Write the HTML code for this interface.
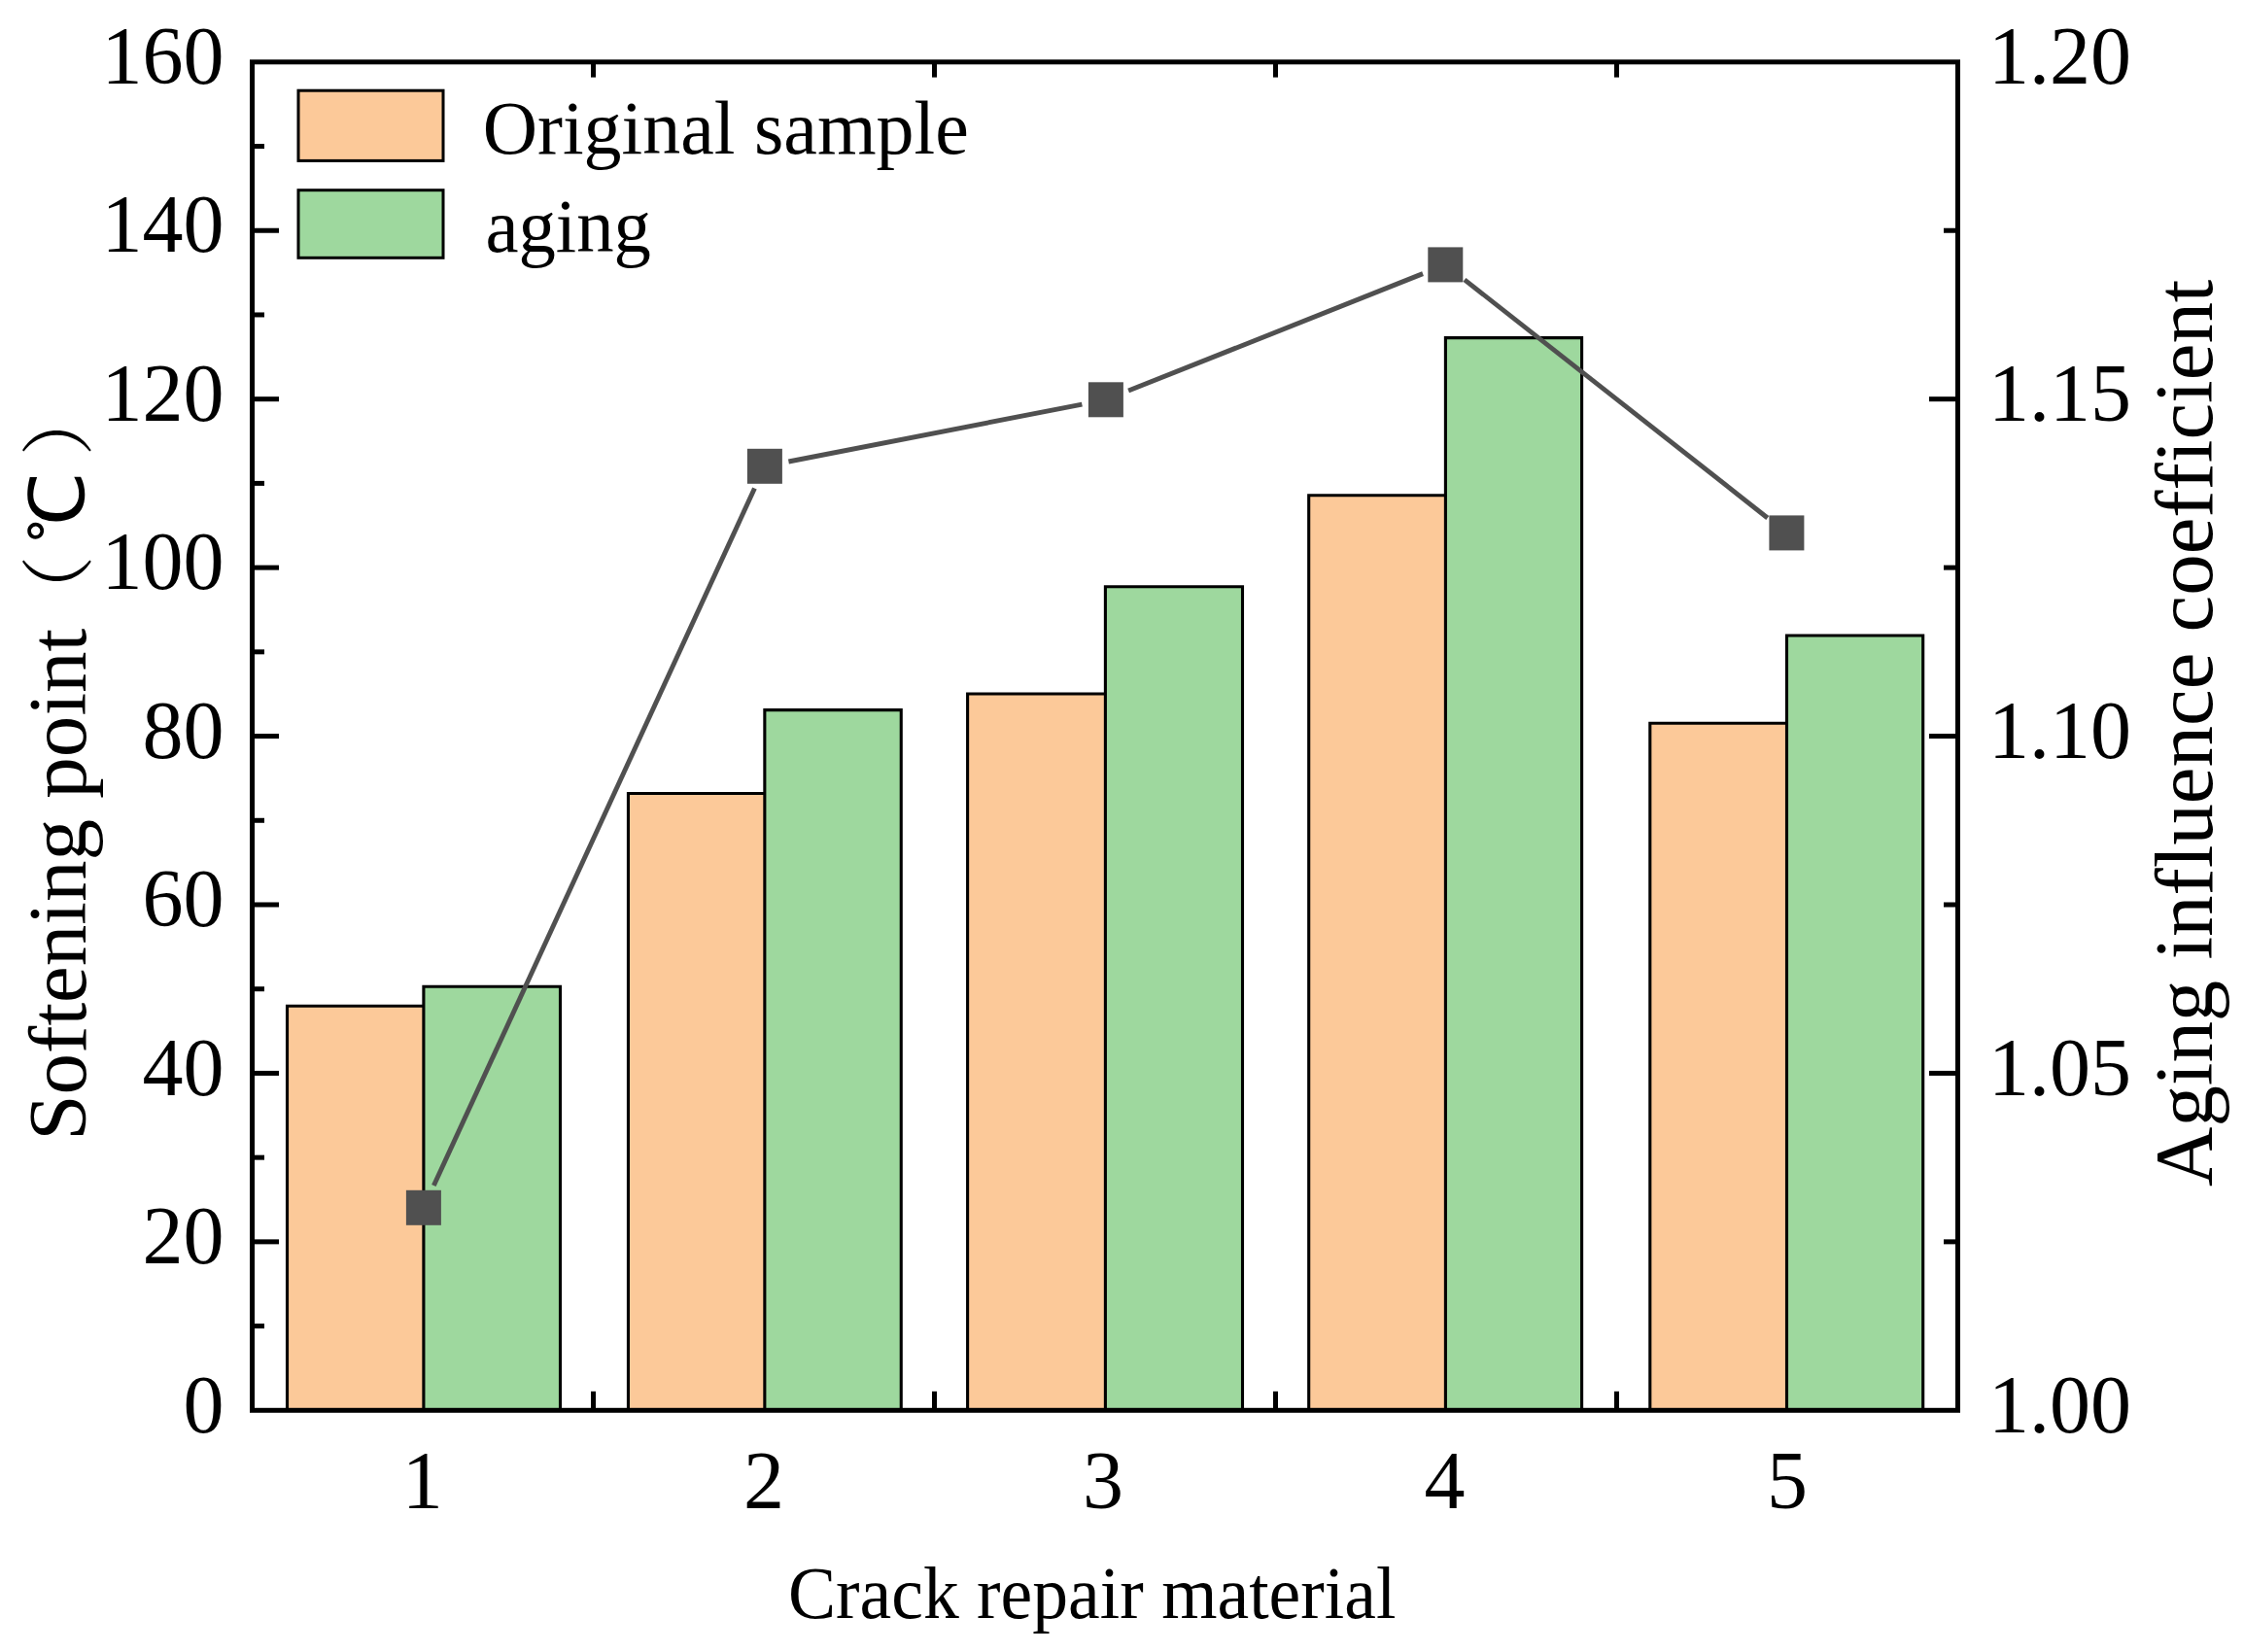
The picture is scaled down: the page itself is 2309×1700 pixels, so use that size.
<!DOCTYPE html>
<html lang="en">
<head>
<meta charset="utf-8">
<title>Softening point and aging influence coefficient</title>
<style>
html,body{margin:0;padding:0;background:#ffffff;}
body{width:2309px;height:1700px;overflow:hidden;}
svg{display:block;}
text{font-kerning:none;font-variant-ligatures:none;}
</style>
</head>
<body>
<svg width="2309" height="1700" viewBox="0 0 2309 1700">
<rect x="0" y="0" width="2309" height="1700" fill="#ffffff"/>
<rect x="295.5" y="1035.2" width="140.4" height="416.1" fill="#FCC999"/>
<rect x="435.9" y="1015.2" width="140.6" height="436.1" fill="#9ED89E"/>
<rect x="646.45" y="816.5" width="140.4" height="634.8" fill="#FCC999"/>
<rect x="786.85" y="730.6" width="140.4" height="720.7" fill="#9ED89E"/>
<rect x="995.6" y="714" width="141.8" height="737.3" fill="#FCC999"/>
<rect x="1137.4" y="603.7" width="141.1" height="847.6" fill="#9ED89E"/>
<rect x="1346.7" y="509.8" width="140.7" height="941.5" fill="#FCC999"/>
<rect x="1487.4" y="347.6" width="140.2" height="1103.7" fill="#9ED89E"/>
<rect x="1697.8" y="744.2" width="140.7" height="707.1" fill="#FCC999"/>
<rect x="1838.5" y="654" width="140.2" height="797.3" fill="#9ED89E"/>
<g stroke="#000000" stroke-width="3.1" stroke-linejoin="miter" fill="none">
<path d="M295.5 1451.3V1035.2H435.9M435.9 1451.3V1015.2H576.5V1451.3"/>
<path d="M646.45 1451.3V816.5H786.85M786.85 1451.3V730.6H927.25V1451.3"/>
<path d="M995.6 1451.3V714H1137.4M1137.4 1451.3V603.7H1278.5V1451.3"/>
<path d="M1346.7 1451.3V509.8H1487.4M1487.4 1451.3V347.6H1627.6V1451.3"/>
<path d="M1697.8 1451.3V744.2H1838.5M1838.5 1451.3V654H1978.7V1451.3"/>
</g>
<g stroke="#505050" stroke-width="4.9" stroke-linecap="butt" fill="none">
<line x1="446.35" y1="1220.09" x2="776.45" y2="502.51"/>
<line x1="811.44" y1="475.01" x2="1113.36" y2="416.09"/>
<line x1="1161.13" y1="402.06" x2="1464.07" y2="281.64"/>
<line x1="1506.95" y1="287.85" x2="1818.75" y2="532.95"/>
</g>
<g fill="#505050">
<rect x="417.9" y="1224.8" width="36" height="36"/>
<rect x="768.9" y="461.8" width="36" height="36"/>
<rect x="1119.9" y="393.3" width="36" height="36"/>
<rect x="1469.3" y="254.4" width="36" height="36"/>
<rect x="1820.4" y="530.4" width="36" height="36"/>
</g>
<rect x="259.5" y="63.8" width="1755" height="1387.5" fill="none" stroke="#000000" stroke-width="5.0"/>
<g fill="#000000">
<rect x="261" y="1275.36" width="26" height="5"/>
<rect x="2000" y="1275.36" width="13" height="5"/>
<rect x="261" y="1101.92" width="26" height="5"/>
<rect x="1985" y="1101.92" width="28" height="5"/>
<rect x="261" y="928.49" width="26" height="5"/>
<rect x="2000" y="928.49" width="13" height="5"/>
<rect x="261" y="755.05" width="26" height="5"/>
<rect x="1985" y="755.05" width="28" height="5"/>
<rect x="261" y="581.61" width="26" height="5"/>
<rect x="2000" y="581.61" width="13" height="5"/>
<rect x="261" y="408.17" width="26" height="5"/>
<rect x="1985" y="408.17" width="28" height="5"/>
<rect x="261" y="234.74" width="26" height="5"/>
<rect x="2000" y="234.74" width="13" height="5"/>
<rect x="261" y="1362.08" width="11" height="5"/>
<rect x="261" y="1188.64" width="11" height="5"/>
<rect x="261" y="1015.21" width="11" height="5"/>
<rect x="261" y="841.77" width="11" height="5"/>
<rect x="261" y="668.33" width="11" height="5"/>
<rect x="261" y="494.89" width="11" height="5"/>
<rect x="261" y="321.46" width="11" height="5"/>
<rect x="261" y="148.02" width="11" height="5"/>
<rect x="608" y="65.3" width="5" height="14.3"/>
<rect x="608" y="1431.8" width="5" height="18"/>
<rect x="959" y="65.3" width="5" height="14.3"/>
<rect x="959" y="1431.8" width="5" height="18"/>
<rect x="1310" y="65.3" width="5" height="14.3"/>
<rect x="1310" y="1431.8" width="5" height="18"/>
<rect x="1661" y="65.3" width="5" height="14.3"/>
<rect x="1661" y="1431.8" width="5" height="18"/>
</g>
<g stroke="#000000" stroke-width="3">
<rect x="307" y="93.2" width="149" height="72.2" fill="#FCC999"/>
<rect x="307" y="195.7" width="149" height="69.6" fill="#9ED89E"/>
</g>
<g font-family="'Liberation Serif', 'Noto Serif CJK SC', serif" fill="#000000" font-size="84.0">
<text x="230.6" y="1473.5" text-anchor="end">0</text>
<text x="230.6" y="1300.06" text-anchor="end">20</text>
<text x="230.6" y="1126.62" text-anchor="end">40</text>
<text x="230.6" y="953.19" text-anchor="end">60</text>
<text x="230.6" y="779.75" text-anchor="end">80</text>
<text x="230.6" y="606.31" text-anchor="end">100</text>
<text x="230.6" y="432.87" text-anchor="end">120</text>
<text x="230.6" y="259.44" text-anchor="end">140</text>
<text x="230.6" y="86" text-anchor="end">160</text>
<text x="2046" y="1473.5">1.00</text>
<text x="2046" y="1126.62">1.05</text>
<text x="2046" y="779.75">1.10</text>
<text x="2046" y="432.87">1.15</text>
<text x="2046" y="86">1.20</text>
<text x="434.8" y="1552.2" text-anchor="middle">1</text>
<text x="786.1" y="1552.2" text-anchor="middle">2</text>
<text x="1135.1" y="1552.2" text-anchor="middle">3</text>
<text x="1486.5" y="1552.2" text-anchor="middle">4</text>
<text x="1838.9" y="1552.2" text-anchor="middle">5</text>
</g>
<text x="810.9" y="1664.7" font-family="'Liberation Serif', 'Noto Serif CJK SC', serif" font-size="76" textLength="625.5" lengthAdjust="spacingAndGlyphs">Crack repair material</text>
<text x="496.7" y="158.2" font-family="'Liberation Serif', 'Noto Serif CJK SC', serif" font-size="78.5" textLength="500.1" lengthAdjust="spacingAndGlyphs">Original sample</text>
<text x="499.4" y="259.3" font-family="'Liberation Serif', 'Noto Serif CJK SC', serif" font-size="78.5" textLength="170.5" lengthAdjust="spacingAndGlyphs">aging</text>
<g transform="rotate(-90)">
<text font-family="'Liberation Serif', 'Noto Serif CJK SC', serif" font-size="84.6"><tspan x="-1173.8" y="87.9" textLength="527" lengthAdjust="spacingAndGlyphs">Softening point</tspan><tspan font-family="'Liberation Serif', 'Noto Serif CJK SC', serif" font-size="75.6" x="-647.25" y="86.6">（</tspan><tspan font-family="'Liberation Serif', 'WenQuanYi Zen Hei', 'Noto Serif CJK SC', serif" font-size="78" x="-558.6" y="86.2">℃</tspan><tspan font-family="'Liberation Serif', 'Noto Serif CJK SC', serif" font-size="75.6" x="-469.3" y="86.6">）</tspan></text>
<text x="-1220.9" y="2276.3" font-family="'Liberation Serif', 'Noto Serif CJK SC', serif" font-size="84.6" textLength="933.3" lengthAdjust="spacingAndGlyphs">Aging influence coefficient</text>
</g>
</svg>
</body>
</html>
